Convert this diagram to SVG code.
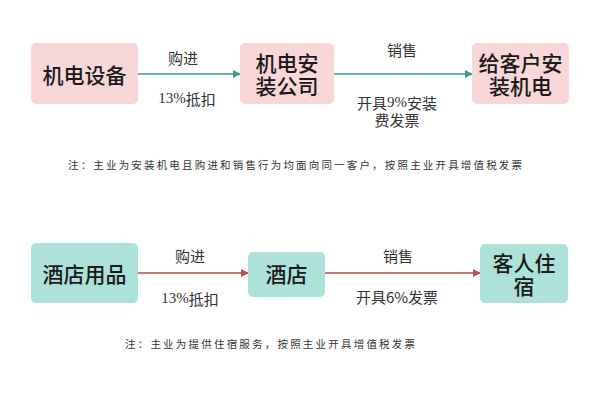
<svg xmlns="http://www.w3.org/2000/svg" width="600" height="404" viewBox="0 0 600 404">
<defs>
<style>
.pink{fill:#f9d6d7;}
.teal{fill:#ade2db;}
.nt{font-family:"Noto Sans CJK SC","Noto Sans",sans-serif;font-size:21px;fill:#1a1a1a;text-anchor:middle;dominant-baseline:central;font-weight:500;}
.lb{font-family:"Noto Sans CJK SC","Noto Sans",sans-serif;font-size:15px;fill:#333;text-anchor:middle;dominant-baseline:central;}
.num{font-family:"Liberation Serif",serif;}
.note{font-family:"Noto Sans CJK SC","Noto Sans",sans-serif;font-size:10.5px;fill:#333;dominant-baseline:central;}
.cg{stroke:#3f9a8d;stroke-width:1.6;fill:none;}
.cr{stroke:#b5514f;stroke-width:1.6;fill:none;}
</style>
<marker id="ag" viewBox="0 0 10 10" refX="9" refY="5" markerWidth="5" markerHeight="5" orient="auto" markerUnits="strokeWidth"><path d="M0,0L10,5L0,10z" fill="#3f9a8d"/></marker>
<marker id="ar" viewBox="0 0 10 10" refX="9" refY="5" markerWidth="5" markerHeight="5" orient="auto" markerUnits="strokeWidth"><path d="M0,0L10,5L0,10z" fill="#b5514f"/></marker>
</defs>
<rect width="600" height="404" fill="#ffffff"/>
<g id="connectors">
<line class="cg" x1="138" y1="74" x2="240" y2="74" marker-end="url(#ag)"/>
<line class="cg" x1="334" y1="74" x2="472" y2="74" marker-end="url(#ag)"/>
<line class="cr" x1="138" y1="273" x2="248" y2="273" marker-end="url(#ar)"/>
<line class="cr" x1="325" y1="273" x2="480" y2="273" marker-end="url(#ar)"/>
<text class="lb" x="183" y="57">购进</text>
<text class="lb" x="187" y="98"><tspan class="num">13%</tspan>抵扣</text>
<text class="lb" x="402" y="49">销售</text>
<text class="lb" x="397" y="102">开具<tspan class="num">9%</tspan>安装<tspan x="397" dy="17">费发票</tspan></text>
<text class="lb" x="190" y="255">购进</text>
<text class="lb" x="190" y="298"><tspan class="num">13%</tspan>抵扣</text>
<text class="lb" x="398" y="255">销售</text>
<text class="lb" x="397" y="296">开具6%发票</text>
</g>
<g id="node-jidianshebei">
<rect class="pink" x="31" y="43" width="107" height="61" rx="5"/>
<text class="nt" x="84.5" y="73.5">机电设备</text>
</g>
<g id="node-anzhuang">
<rect class="pink" x="240" y="43" width="94" height="61" rx="5"/>
<text class="nt" x="287" y="62">机电安<tspan x="287" dy="23">装公司</tspan></text>
</g>
<g id="node-kehu">
<rect class="pink" x="472" y="43" width="97" height="61" rx="5"/>
<text class="nt" x="520.5" y="62">给客户安<tspan x="520.5" dy="23">装机电</tspan></text>
</g>
<g id="node-note1">
<text class="note" x="68" y="164" textLength="454" lengthAdjust="spacing">注：主业为安装机电且购进和销售行为均面向同一客户，按照主业开具增值税发票</text>
</g>
<g id="node-jiudianyongpin">
<rect class="teal" x="31" y="243" width="107" height="60" rx="5"/>
<text class="nt" x="84.5" y="273">酒店用品</text>
</g>
<g id="node-jiudian">
<rect class="teal" x="248" y="252" width="77" height="45" rx="5"/>
<text class="nt" x="286.5" y="273">酒店</text>
</g>
<g id="node-kerenzhusu">
<rect class="teal" x="480" y="244" width="88" height="59" rx="5"/>
<text class="nt" x="524" y="262">客人住<tspan x="524" dy="23">宿</tspan></text>
</g>
<g id="node-note2">
<text class="note" x="125" y="343" textLength="290" lengthAdjust="spacing">注：主业为提供住宿服务，按照主业开具增值税发票</text>
</g>
</svg>
